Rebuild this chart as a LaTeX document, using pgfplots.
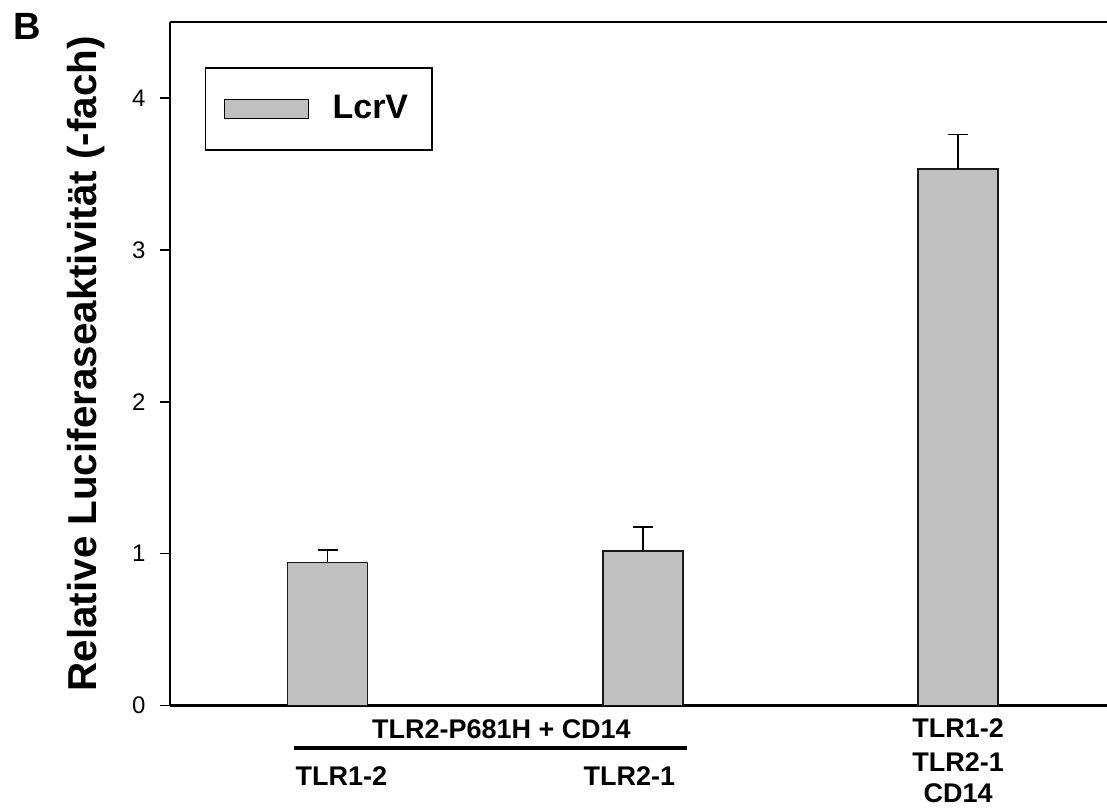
\documentclass[border=0pt]{standalone}
\usepackage{pgfplots}
\pgfplotsset{compat=1.18}
\usepackage{fontspec}
\setmainfont{Liberation Sans}
\definecolor{barfill}{RGB}{192,192,192}
\begin{document}
\begin{tikzpicture}
\begin{axis}[
  name=ax,
  scale only axis,
  width=468.85pt, height=342pt,
  xmin=-0.5, xmax=2.472,
  ymin=0, ymax=4.5,
  axis x line*=box,
  axis y line*=left,
  axis line style={line width=1.1pt, black},
  clip=false,
  xtick=\empty,
  ytick={0,1,2,3,4},
  yticklabels={0,1,2,3,4},
  ytick pos=left,
  tick align=outside,
  major tick length=5pt,
  tick style={black, line width=0.8pt},
  yticklabel style={font=\fontsize{12}{14}\selectfont, inner sep=0pt, xshift=-7pt},
  ylabel={Relative Luciferaseaktivität (-fach)},
  ylabel style={font=\fontsize{20.2}{24}\selectfont\bfseries, at={(axis description cs:-0.0694,0.5)}, anchor=south, inner sep=0pt},
  ybar,
  bar width=40pt,
  legend style={at={(rel axis cs:0.03735,0.9342)}, anchor=north west, draw=black, line width=0.8pt, inner sep=0pt,
    nodes={inner sep=0pt}},
  legend cell align=left,
  legend image code/.code={\path[draw=none,fill=none] (0pt,-20.5pt) rectangle (63.5pt,20.5pt);
    \draw[fill=barfill, draw=black, line width=0.6pt] (9.5pt,-4.75pt) rectangle (51.5pt,4.75pt);},
]
\addplot[fill=barfill, draw=black!90, line width=0.8pt,
  error bars/.cd, y dir=plus, y explicit,
  error bar style={line width=0.8pt, black},
  error mark options={rotate=90, mark size=5pt, line width=0.8pt, black}]
  coordinates {(0,0.943) +- (0,0.081) (1,1.018) +- (0,0.158) (2,3.533) +- (0,0.225)};
\addlegendentry{\fontsize{17}{18}\selectfont\bfseries LcrV\hspace*{12pt}}

\node[font=\fontsize{13.5}{16}\selectfont\bfseries, anchor=base, yshift=-16.5pt] at (axis cs:0.5515,0) {TLR2-P681H + CD14};
\draw[line width=2pt] ([yshift=-21pt]axis cs:-0.1078,0) -- ([yshift=-21pt]axis cs:1.141,0);
\node[font=\fontsize{13.5}{16}\selectfont\bfseries, anchor=base, yshift=-40pt] at (axis cs:0.044,0) {TLR1-2};
\node[font=\fontsize{13.5}{16}\selectfont\bfseries, anchor=base, yshift=-40pt] at (axis cs:0.957,0) {TLR2-1};
\node[font=\fontsize{13.5}{16}\selectfont\bfseries, anchor=base, yshift=-16pt] at (axis cs:2,0) {TLR1-2};
\node[font=\fontsize{13.5}{16}\selectfont\bfseries, anchor=base, yshift=-32.8pt] at (axis cs:2,0) {TLR2-1};
\node[font=\fontsize{13.5}{16}\selectfont\bfseries, anchor=base, yshift=-48.5pt] at (axis cs:2,0) {CD14};
\end{axis}
\node[anchor=north west, inner sep=0pt, font=\fontsize{19}{21}\selectfont\bfseries] at ([xshift=-78.5pt, yshift=4.5pt]ax.north west) {B};
\pgfresetboundingbox
\path ([xshift=-85pt,yshift=-51pt]ax.south west) rectangle ([yshift=11pt]ax.north east);
\end{tikzpicture}
\end{document}
